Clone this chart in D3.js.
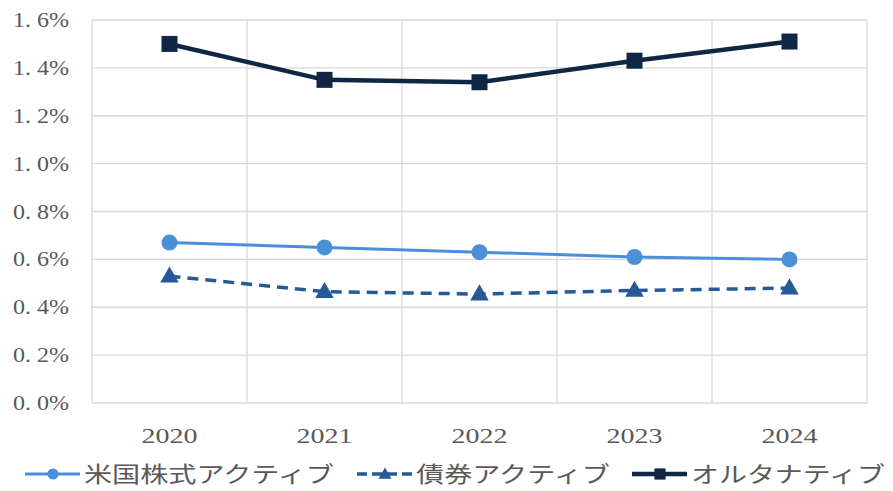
<!DOCTYPE html>
<html>
<head>
<meta charset="utf-8">
<script src="https://cdn.jsdelivr.net/npm/d3@7"></script>
<style>
  body { margin: 0; background: #fff; }
  text { font-family: "Liberation Serif", "Noto Sans CJK JP", serif; fill: #595959; }
</style>
</head>
<body>
<script>
// data
var years = ["2020", "2021", "2022", "2023", "2024"];
var usEquity = [0.0067, 0.0065, 0.0063, 0.0061, 0.0060];
var bonds = [0.0053, 0.00465, 0.00455, 0.0047, 0.0048];
var alternative = [0.0150, 0.0135, 0.0134, 0.0143, 0.0151];
var yTicks = [0, 0.002, 0.004, 0.006, 0.008, 0.010, 0.012, 0.014, 0.016];
var seriesNames = ["米国株式アクティブ", "債券アクティブ", "オルタナティブ"];

var width = 893, height = 491;
var svg = d3.select("body").append("svg")
    .attr("width", width)
    .attr("height", height);

var x = d3.scaleBand().domain(years).range([92, 867]);
var y = d3.scaleLinear().domain([0, 0.016]).range([403, 20]);
var cx = d => x(d) + x.bandwidth() / 2;

var grid = svg.append("g");
// horizontal grid
grid.selectAll("line.h")
    .data(yTicks)
    .join("line")
    .attr("x1", 92).attr("x2", 867)
    .attr("y1", d => y(d)).attr("y2", d => y(d))
    .attr("stroke", "#d9d9d9").attr("stroke-width", 1.3);
// vertical grid on band edges
var edges = years.map(d => x(d)).concat([867]);
grid.selectAll("line.v")
    .data(edges)
    .join("line")
    .attr("x1", d => d).attr("x2", d => d)
    .attr("y1", y(0.016)).attr("y2", y(0))
    .attr("stroke", "#d9d9d9").attr("stroke-width", 1.3);

// y labels ("1. 6%" style)
svg.append("g").selectAll("text")
    .data(yTicks)
    .join("text")
    .attr("x", 13)
    .attr("y", d => y(d) + 7)
    .attr("font-size", 20)
    .attr("textLength", 56)
    .attr("lengthAdjust", "spacingAndGlyphs")
    .text(d => d3.format(".1%")(d).replace(".", ". "));

// x labels
svg.append("g").selectAll("text")
    .data(years)
    .join("text")
    .attr("x", d => cx(d) - 28)
    .attr("y", 443)
    .attr("font-size", 21)
    .attr("textLength", 56)
    .attr("lengthAdjust", "spacingAndGlyphs")
    .text(d => d);

var series = [
  {name: seriesNames[0], values: usEquity, color: "#4a8fd8", width: 3, dash: null, marker: "circle"},
  {name: seriesNames[1], values: bonds, color: "#255a96", width: 3.5, dash: "11,7", marker: "triangle"},
  {name: seriesNames[2], values: alternative, color: "#0f2744", width: 4.5, dash: null, marker: "square"}
];

var line = d3.line().x(d => cx(d.year)).y(d => y(d.v));

function drawMarker(g, type, color, k) {
    if (type == "circle") {
        g.append("circle").attr("r", 8 * k).attr("fill", color);
    } else if (type == "triangle") {
        g.append("path").attr("d", d3.symbol(d3.symbolTriangle, 150 * k * k)()).attr("fill", color)
          .attr("transform", "translate(0,1)");
    } else {
        g.append("rect").attr("x", -8 * k).attr("y", -8 * k)
          .attr("width", 16 * k).attr("height", 16 * k).attr("fill", color);
    }
}

series.forEach(function(s) {
    var pts = years.map((yr, i) => ({year: yr, v: s.values[i]}));
    svg.append("path")
        .datum(pts)
        .attr("d", line)
        .attr("fill", "none")
        .attr("stroke", s.color)
        .attr("stroke-width", s.width)
        .attr("stroke-dasharray", s.dash);
    pts.forEach(function(p) {
        var g = svg.append("g").attr("transform", `translate(${cx(p.year)},${y(p.v)})`);
        drawMarker(g, s.marker, s.color, 1);
    });
});

// legend
var legendX = [25, 357, 632];
var legend = svg.append("g");
series.forEach(function(s, i) {
    var lx = legendX[i], ly = 474;
    var g = legend.append("g");
    g.append("line")
        .attr("x1", lx).attr("x2", lx + 55)
        .attr("y1", ly).attr("y2", ly)
        .attr("stroke", s.color).attr("stroke-width", s.width)
        .attr("stroke-dasharray", s.dash ? "10,5" : null);
    var mg = g.append("g").attr("transform", `translate(${lx + 28},${ly})`);
    drawMarker(mg, s.marker, s.color, 0.7);
    g.append("text")
        .attr("x", lx + 59)
        .attr("y", ly + 8)
        .attr("font-size", 22)
        .attr("textLength", 28 * s.name.length - 2)
        .attr("lengthAdjust", "spacingAndGlyphs")
        .text(s.name);
});
</script>
</body>
</html>
